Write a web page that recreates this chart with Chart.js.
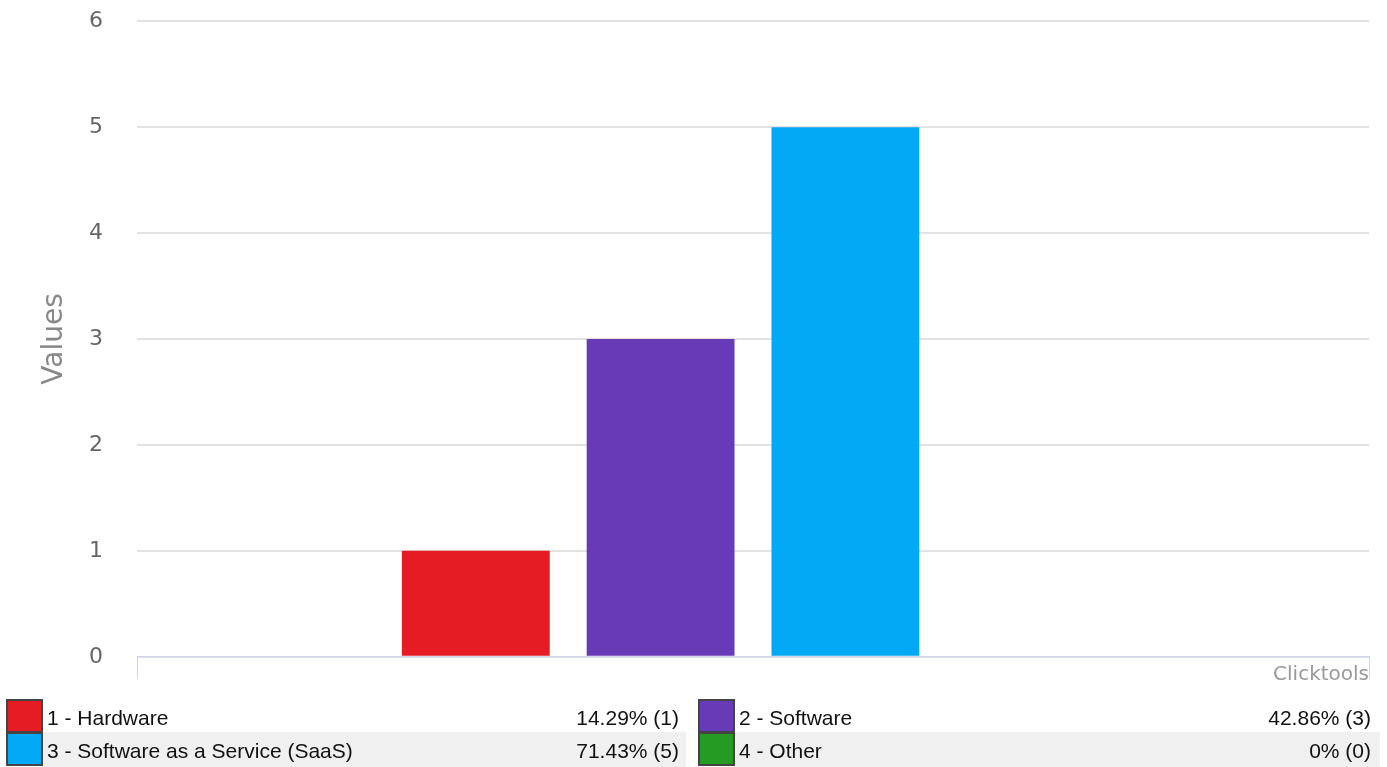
<!DOCTYPE html>
<html>
<head>
<meta charset="utf-8">
<script src="https://cdn.jsdelivr.net/npm/chart.js@4"></script>
<style>
  html, body { margin: 0; padding: 0; background: #fff; overflow: hidden; }
  #wrap { position: absolute; left: 0; top: -26px; width: 1387px; height: 730px; }
  #legend { position: absolute; left: 0; top: 699px; width: 1387px; height: 68px; z-index: 2;
            font-family: "Liberation Sans", Arial, sans-serif; font-size: 21px; color: #111; }
  .sw { position: absolute; width: 33px; height: 30px; border: 2px solid #444; }
  .lbl { position: absolute; top: 0; line-height: 38px; white-space: nowrap; }
  .pct { position: absolute; top: 0; line-height: 38px; white-space: nowrap; text-align: right; }
  .bg { position: absolute; background: #f0f0f0; }
</style>
</head>
<body>
<div id="wrap"><canvas id="c"></canvas></div>
<div id="legend"></div>
<script>
const categories = ['1 - Hardware', '2 - Software', '3 - Software as a Service (SaaS)', '4 - Other'];
const values = [1, 3, 5, 0];
const percents = ['14.29%', '42.86%', '71.43%', '0%'];
const colors = ['#e51c23', '#673ab7', '#03a9f4', '#259b24'];
const yTicks = [0, 1, 2, 3, 4, 5, 6];

const datasets = categories.map((name, i) => ({
  label: name,
  data: [values[i]],
  backgroundColor: colors[i],
  borderWidth: 0
}));

new Chart(document.getElementById('c'), {
  type: 'bar',
  data: { labels: [''], datasets },
  options: {
    responsive: true,
    maintainAspectRatio: false,
    animation: false,
    layout: { padding: { top: 18, right: 18, bottom: 7, left: 0 } },
    plugins: { legend: { display: false }, tooltip: { enabled: false } },
    datasets: { bar: { categoryPercentage: 0.6, barPercentage: 0.8 } },
    scales: {
      x: {
        grid: { display: true, drawOnChartArea: false, drawTicks: true, tickLength: 22, color: '#ccd6eb', lineWidth: 1 },
        border: { display: true, color: '#ccd6eb', width: 1 },
        ticks: { display: false },
        title: { display: true, text: 'Clicktools', align: 'end', color: '#999',
                 font: { family: 'DejaVu Sans', size: 20 }, padding: { top: -16, bottom: 0 } }
      },
      y: {
        min: 0, max: 6,
        afterBuildTicks: (s) => { s.ticks = yTicks.map(v => ({ value: v })); },
        afterFit: (s) => { s.width = 137; },
        grid: { color: '#e2e2e2', lineWidth: 2, drawTicks: false },
        border: { display: false },
        ticks: { color: '#666', padding: 34, font: { family: 'DejaVu Sans', size: 22 } },
        title: { display: true, text: 'Values', color: '#888',
                 font: { family: 'DejaVu Sans', size: 28 }, padding: { top: 38, bottom: 0 } }
      }
    }
  }
});

// HTML legend table built from the arrays
const lg = document.getElementById('legend');
const colX = [6, 698];
const pctRight = [679, 1371];
const bgW = [643, 645];
for (let i = 0; i < categories.length; i++) {
  const col = i % 2, row = Math.floor(i / 2);
  const top = row * 33;
  if (row === 1) {
    const bg = document.createElement('div');
    bg.className = 'bg';
    bg.style.left = (colX[col] + 37) + 'px';
    bg.style.top = top + 'px';
    bg.style.width = bgW[col] + 'px';
    bg.style.height = '35px';
    lg.appendChild(bg);
  }
  const sw = document.createElement('div');
  sw.className = 'sw';
  sw.style.left = colX[col] + 'px';
  sw.style.top = top + 'px';
  sw.style.background = colors[i];
  lg.appendChild(sw);
  const lb = document.createElement('div');
  lb.className = 'lbl';
  lb.style.left = (colX[col] + 41) + 'px';
  lb.style.top = top + 'px';
  lb.textContent = categories[i];
  lg.appendChild(lb);
  const pc = document.createElement('div');
  pc.className = 'pct';
  pc.style.left = (pctRight[col] - 200) + 'px';
  pc.style.width = '200px';
  pc.style.top = top + 'px';
  pc.textContent = percents[i] + ' (' + values[i] + ')';
  lg.appendChild(pc);
}
</script>
</body>
</html>
